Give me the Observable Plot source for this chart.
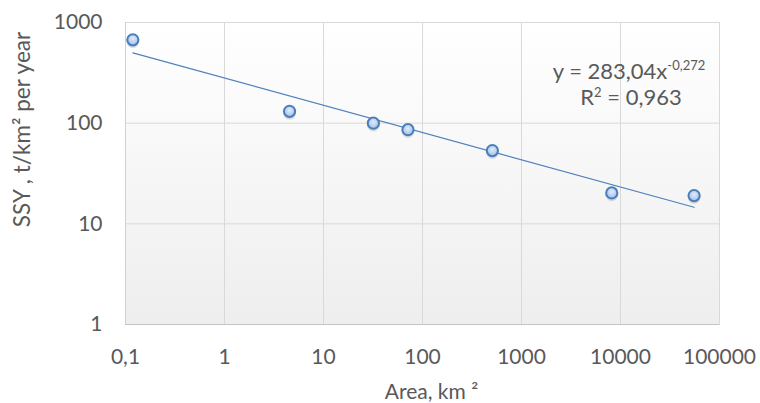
<!DOCTYPE html>
<html><head><meta charset="utf-8">
<script src="https://cdn.jsdelivr.net/npm/d3@7"></script>
<script src="https://cdn.jsdelivr.net/npm/@observablehq/plot@0.6"></script>
<style>body{margin:0;background:#fff} svg{display:block}</style>
</head><body><div id="chart"></div>
<script>
// Data
const area = [0.1186, 4.54, 31.9, 71.3, 508, 8160, 55400];
const ssy = [673, 131, 100, 86.2, 53.4, 20.3, 19.1];
const trendArea = [0.1186, 55400];
const trendSsy = [500, 14.6];
const xTicks = [0.1, 1, 10, 100, 1000, 10000, 100000];
const xTickLabels = ["0,1", "1", "10", "100", "1000", "10000", "100000"];
const yTicks = [1, 10, 100, 1000];
const yTickLabels = ["1", "10", "100", "1000"];
const xTitle = ["Area, km ²"];
const yTitle = ["SSY , t/km² per year"];
const eqLine1 = ["y = 283,04x", "-0,272"];
const eqLine2 = ["R", "2", " = 0,963"];

const points = area.map((a, i) => ({area: a, ssy: ssy[i]}));
const trend = trendArea.map((a, i) => ({area: a, ssy: trendSsy[i]}));

const FONT = "Lato, 'Open Sans', sans-serif";
const TXT = "#595959";

function defs() {
  const d = d3.create("svg:defs");
  const bg = d.append("linearGradient").attr("id", "bgGrad").attr("x1", 0).attr("y1", 0).attr("x2", 0).attr("y2", 1);
  bg.append("stop").attr("offset", "0%").attr("stop-color", "#ffffff");
  bg.append("stop").attr("offset", "100%").attr("stop-color", "#eeeeee");
  const dg = d.append("radialGradient").attr("id", "dotGrad").attr("cx", "50%").attr("cy", "40%").attr("r", "60%");
  dg.append("stop").attr("offset", "0%").attr("stop-color", "#e0ebf9");
  dg.append("stop").attr("offset", "100%").attr("stop-color", "#a0bfea");
  return d.node();
}

function equation(index, scales, values, dim) {
  const cx = dim.width - dim.marginRight - 90;
  const g = d3.create("svg:g")
    .attr("font-family", FONT).attr("fill", TXT).attr("text-anchor", "middle");
  const t1 = g.append("text").attr("x", cx).attr("y", dim.marginTop + 57).attr("font-size", 22);
  t1.append("tspan").text(eqLine1[0]);
  t1.append("tspan").attr("font-size", 13).attr("dy", -9).text(eqLine1[1]);
  const t2 = g.append("text").attr("x", cx + 2).attr("y", dim.marginTop + 83).attr("font-size", 22);
  t2.append("tspan").text(eqLine2[0]);
  t2.append("tspan").attr("font-size", 13).attr("dy", -8).text(eqLine2[1]);
  t2.append("tspan").attr("font-size", 22).attr("dy", 8).text(eqLine2[2]);
  return g.node();
}

const chart = Plot.plot({
  width: 760,
  height: 403,
  marginLeft: 125,
  marginRight: 41,
  marginTop: 22,
  marginBottom: 79,
  style: {fontFamily: FONT, fontSize: "21px", background: "#fff"},
  x: {type: "log", domain: [0.1, 100000]},
  y: {type: "log", domain: [1, 1000]},
  marks: [
    defs,
    Plot.frame({fill: "url(#bgGrad)"}),
    Plot.gridX(xTicks, {stroke: "#d9d9d9", strokeOpacity: 1}),
    Plot.gridY(yTicks, {stroke: "#d9d9d9", strokeOpacity: 1}),
    Plot.frame({stroke: "#d9d9d9"}),
    Plot.ruleY([1], {stroke: "#c4c4c4"}),
    Plot.ruleX([0.1], {stroke: "#d0d0d0"}),
    Plot.axisX(xTicks, {tickSize: 0, tickPadding: 25, fontSize: 21, color: TXT, label: null,
      tickFormat: d => xTickLabels[xTicks.indexOf(d)]}),
    Plot.axisY(yTicks, {tickSize: 0, tickPadding: 23, fontSize: 21, color: TXT, label: null,
      tickFormat: d => yTickLabels[yTicks.indexOf(d)]}),
    Plot.text(xTitle, {frameAnchor: "bottom", textAnchor: "middle", lineAnchor: "middle", dx: 9, dy: 68, fontSize: 21, fill: TXT}),
    Plot.text(yTitle, {frameAnchor: "left", textAnchor: "middle", rotate: -90, lineAnchor: "middle", dx: -103, dy: -44, fontSize: 22.5, fill: TXT}),
    Plot.line(trend, {x: "area", y: "ssy", stroke: "#4f81bd", strokeWidth: 1.2}),
    Plot.dot(points, {x: "area", y: "ssy", r: 6.3, fill: "#000", fillOpacity: 0.12, dy: 2}),
    Plot.dot(points, {x: "area", y: "ssy", r: 5.6, fill: "url(#dotGrad)", stroke: "#4a7ebb", strokeWidth: 2}),
    equation
  ]
});
document.getElementById("chart").appendChild(chart);
</script>
</body></html>
